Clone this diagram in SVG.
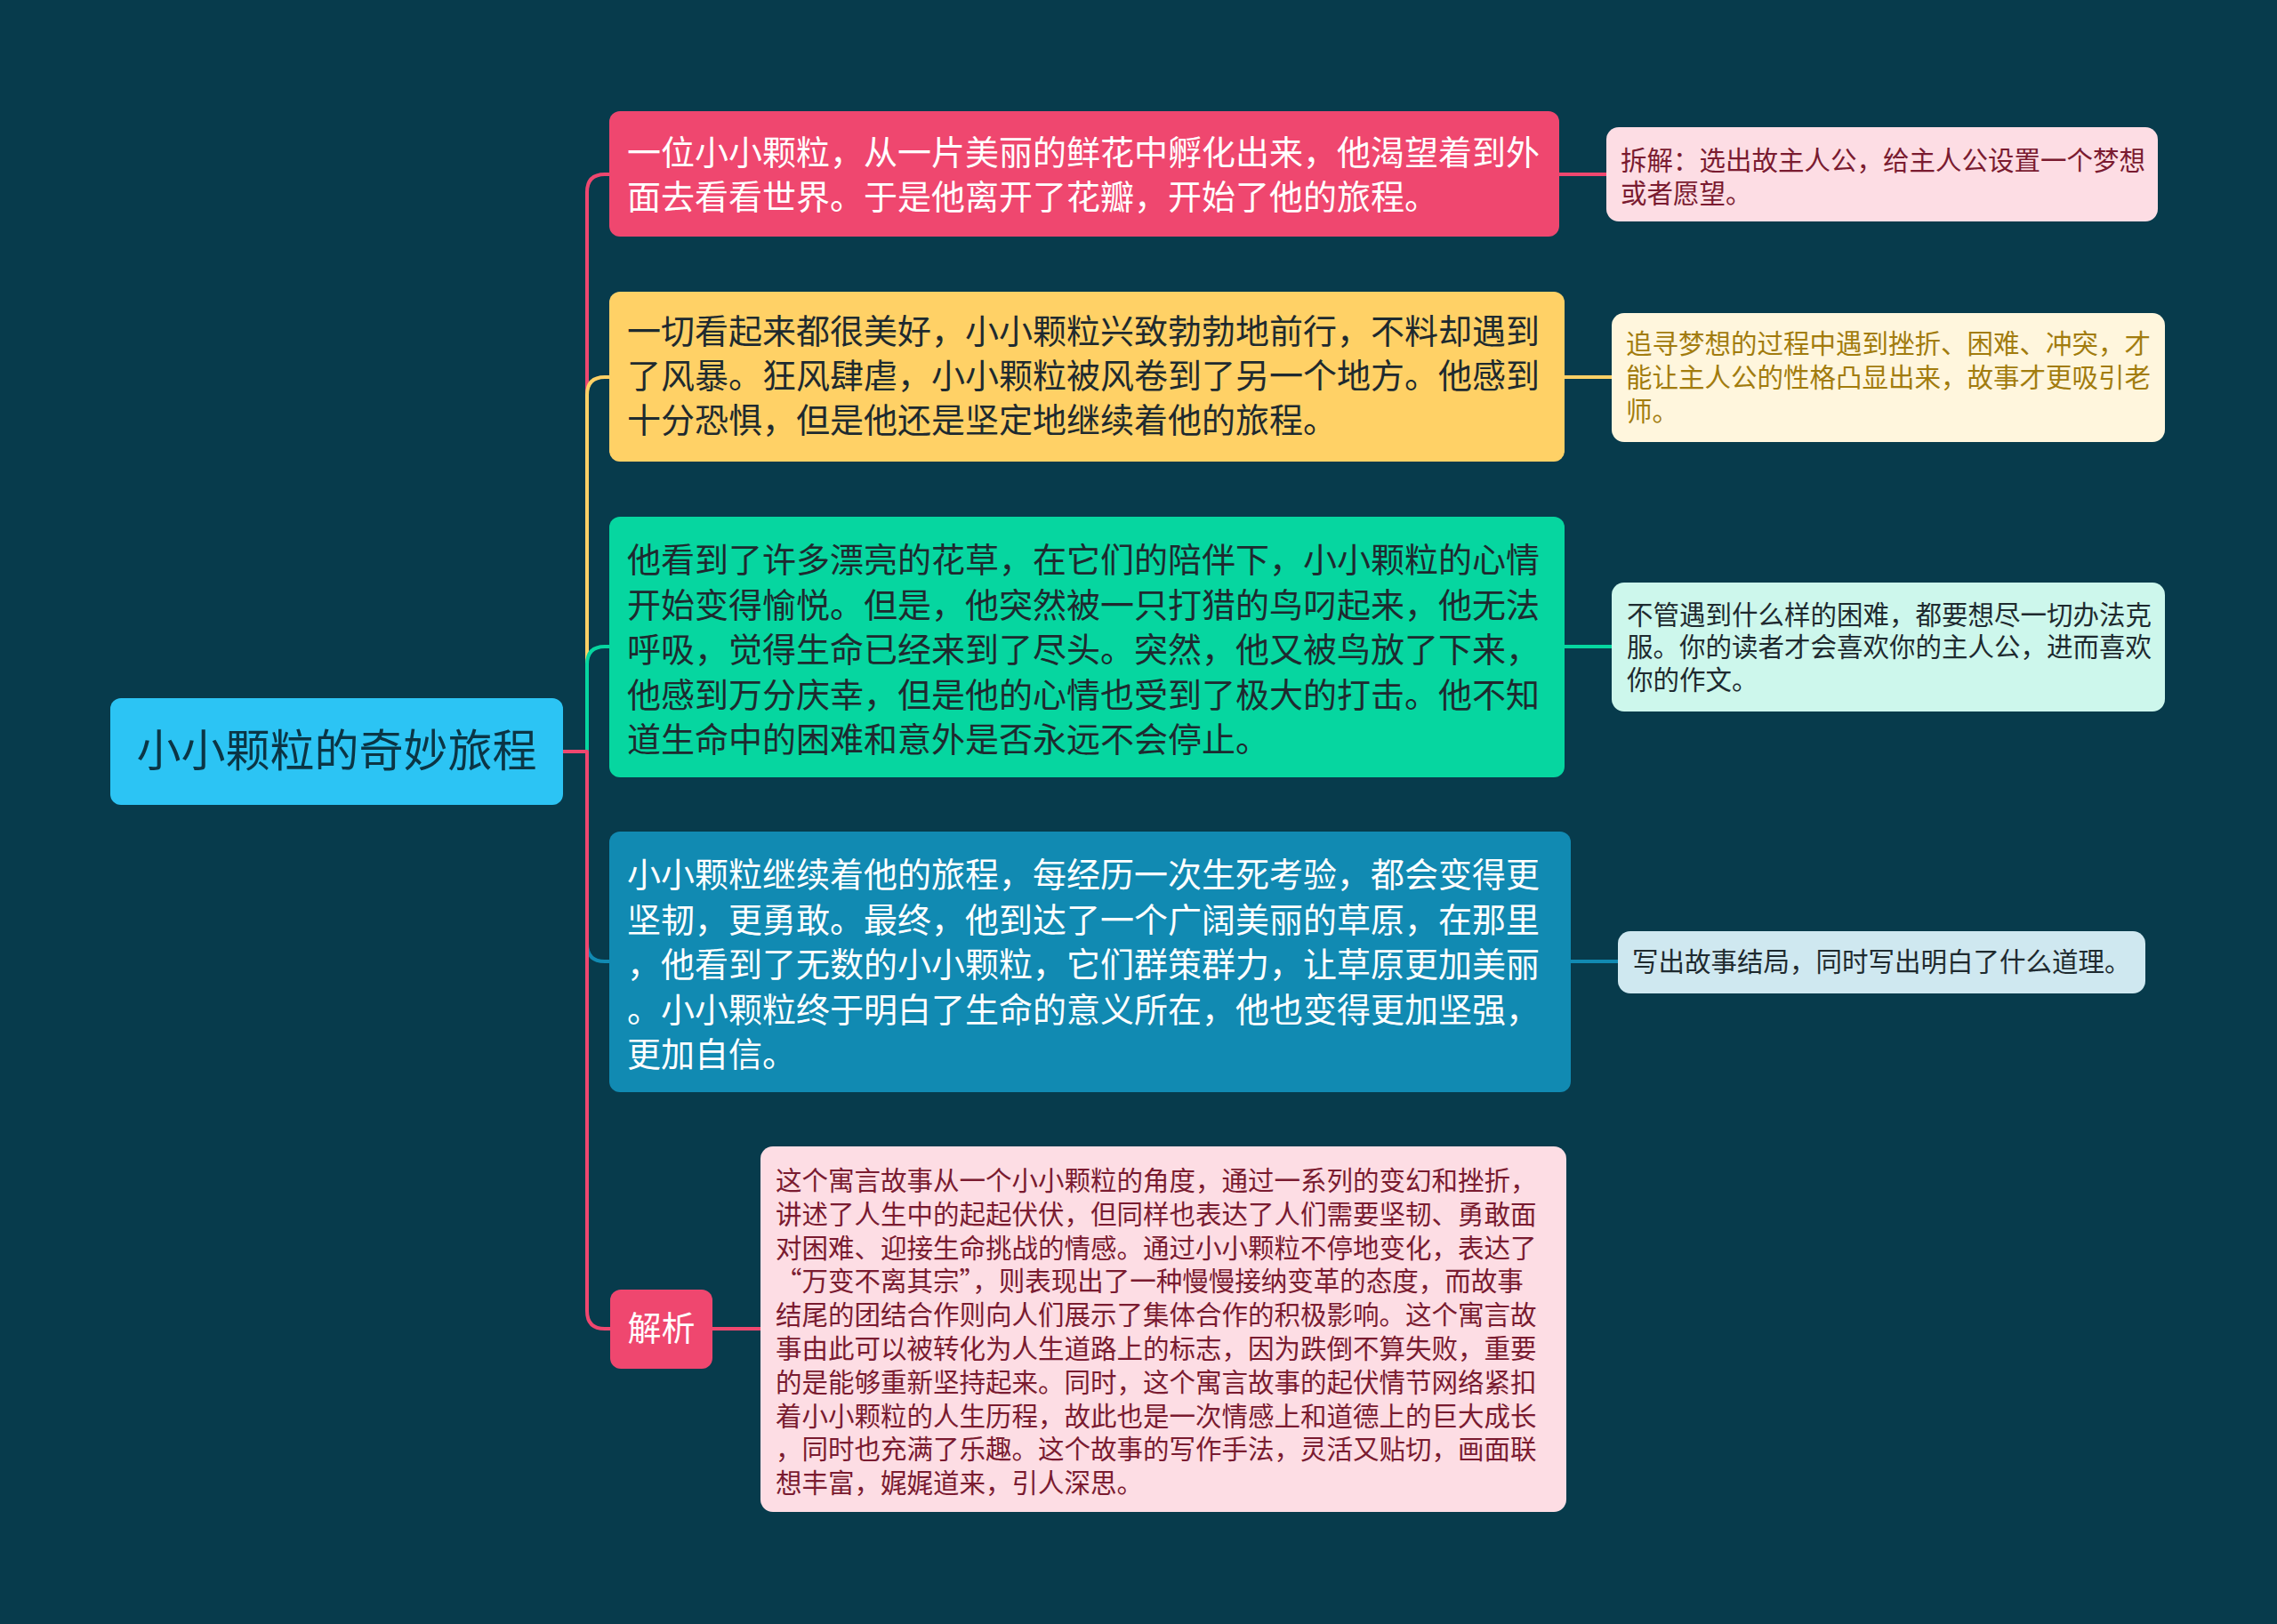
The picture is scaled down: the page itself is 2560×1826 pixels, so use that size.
<svg xmlns="http://www.w3.org/2000/svg" width="2560" height="1826" viewBox="0 0 2560 1826">
<style>
text{font-family:"Noto Sans CJK SC","Noto Sans",sans-serif}
.n{font-size:38px}
.s{font-size:29.5px}
.w{fill:#ffffff}
.d{fill:#1e2a2f}
.r{fill:#7a1b30}
.g{fill:#a27c0e}
.c{fill:none;stroke-width:4;stroke-linecap:round;stroke-linejoin:round}
</style>
<rect width="2560" height="1826" fill="#073b4c"/>
<g id="connectors">
<path class="c" stroke="#ef476f" d="M633,845 H660 V216 Q660,196 680,196 H686"/>
<path class="c" stroke="#ffd166" d="M660,845 V444 Q660,424 680,424 H686"/>
<path class="c" stroke="#06d6a0" d="M660,845 V747 Q660,727 680,727 H686"/>
<path class="c" stroke="#118ab2" d="M660,845 V1061 Q660,1081 680,1081 H686"/>
<path class="c" stroke="#ef476f" d="M633,845 H660 V1474 Q660,1494 680,1494 H686"/>
<path class="c" stroke="#ef476f" d="M1753,196 H1806"/>
<path class="c" stroke="#ffd166" d="M1759,424 H1812"/>
<path class="c" stroke="#06d6a0" d="M1759,727 H1812"/>
<path class="c" stroke="#118ab2" d="M1766,1081 H1819"/>
<path class="c" stroke="#ef476f" d="M801,1494 H855"/>
</g>
<g id="root">
<rect x="124" y="785" width="509" height="120" rx="12" fill="#2cc4f4"/>
<text x="378.5" y="862" text-anchor="middle" font-size="50" fill="#0b3545">小小颗粒的奇妙旅程</text>
</g>
<g id="node1">
<rect x="685" y="125" width="1068" height="141" rx="12" fill="#ef476f"/>
<text class="n w" x="705" y="185">一位小小颗粒，从一片美丽的鲜花中孵化出来，他渴望着到外</text>
<text class="n w" x="705" y="235">面去看看世界。于是他离开了花瓣，开始了他的旅程。</text>
</g>
<g id="node2">
<rect x="685" y="328" width="1074" height="191" rx="12" fill="#ffd166"/>
<text class="n d" x="705" y="386">一切看起来都很美好，小小颗粒兴致勃勃地前行，不料却遇到</text>
<text class="n d" x="705" y="436">了风暴。狂风肆虐，小小颗粒被风卷到了另一个地方。他感到</text>
<text class="n d" x="705" y="486">十分恐惧，但是他还是坚定地继续着他的旅程。</text>
</g>
<g id="node3">
<rect x="685" y="581" width="1074" height="293" rx="12" fill="#06d6a0"/>
<text class="n d" x="705" y="643">他看到了许多漂亮的花草，在它们的陪伴下，小小颗粒的心情</text>
<text class="n d" x="705" y="694">开始变得愉悦。但是，他突然被一只打猎的鸟叼起来，他无法</text>
<text class="n d" x="705" y="744">呼吸，觉得生命已经来到了尽头。突然，他又被鸟放了下来，</text>
<text class="n d" x="705" y="795">他感到万分庆幸，但是他的心情也受到了极大的打击。他不知</text>
<text class="n d" x="705" y="845">道生命中的困难和意外是否永远不会停止。</text>
</g>
<g id="node4">
<rect x="685" y="935" width="1081" height="293" rx="12" fill="#118ab2"/>
<text class="n w" x="705" y="997">小小颗粒继续着他的旅程，每经历一次生死考验，都会变得更</text>
<text class="n w" x="705" y="1048">坚韧，更勇敢。最终，他到达了一个广阔美丽的草原，在那里</text>
<text class="n w" x="705" y="1098">，他看到了无数的小小颗粒，它们群策群力，让草原更加美丽</text>
<text class="n w" x="705" y="1149">。小小颗粒终于明白了生命的意义所在，他也变得更加坚强，</text>
<text class="n w" x="705" y="1199">更加自信。</text>
</g>
<g id="node5">
<rect x="686" y="1450" width="115" height="89" rx="12" fill="#ef476f"/>
<text class="n w" x="743.5" y="1507" text-anchor="middle">解析</text>
</g>
<g id="note1">
<rect x="1806" y="143" width="620" height="106" rx="14" fill="#fddde4"/>
<text class="s r" x="1822" y="191">拆解：选出故主人公，给主人公设置一个梦想</text>
<text class="s r" x="1822" y="228">或者愿望。</text>
</g>
<g id="note2">
<rect x="1812" y="352" width="622" height="145" rx="14" fill="#fff6dd"/>
<text class="s g" x="1828" y="397">追寻梦想的过程中遇到挫折、困难、冲突，才</text>
<text class="s g" x="1828" y="435">能让主人公的性格凸显出来，故事才更吸引老</text>
<text class="s g" x="1828" y="473">师。</text>
</g>
<g id="note3">
<rect x="1812" y="655" width="622" height="145" rx="14" fill="#cdf7ec"/>
<text class="s d" x="1829" y="702">不管遇到什么样的困难，都要想尽一切办法克</text>
<text class="s d" x="1829" y="738">服。你的读者才会喜欢你的主人公，进而喜欢</text>
<text class="s d" x="1829" y="775">你的作文。</text>
</g>
<g id="note4">
<rect x="1819" y="1047" width="593" height="70" rx="14" fill="#cfe8f0"/>
<text class="s d" x="1835" y="1092">写出故事结局，同时写出明白了什么道理。</text>
</g>
<g id="note5">
<rect x="855" y="1289" width="906" height="411" rx="14" fill="#fddde4"/>
<text class="s r" x="872" y="1338">这个寓言故事从一个小小颗粒的角度，通过一系列的变幻和挫折，</text>
<text class="s r" x="872" y="1376">讲述了人生中的起起伏伏，但同样也表达了人们需要坚韧、勇敢面</text>
<text class="s r" x="872" y="1414">对困难、迎接生命挑战的情感。通过小小颗粒不停地变化，表达了</text>
<text class="s r" x="872" y="1451">“万变不离其宗”，则表现出了一种慢慢接纳变革的态度，而故事</text>
<text class="s r" x="872" y="1489">结尾的团结合作则向人们展示了集体合作的积极影响。这个寓言故</text>
<text class="s r" x="872" y="1527">事由此可以被转化为人生道路上的标志，因为跌倒不算失败，重要</text>
<text class="s r" x="872" y="1565">的是能够重新坚持起来。同时，这个寓言故事的起伏情节网络紧扣</text>
<text class="s r" x="872" y="1603">着小小颗粒的人生历程，故此也是一次情感上和道德上的巨大成长</text>
<text class="s r" x="872" y="1640">，同时也充满了乐趣。这个故事的写作手法，灵活又贴切，画面联</text>
<text class="s r" x="872" y="1678">想丰富，娓娓道来，引人深思。</text>
</g>
</svg>
